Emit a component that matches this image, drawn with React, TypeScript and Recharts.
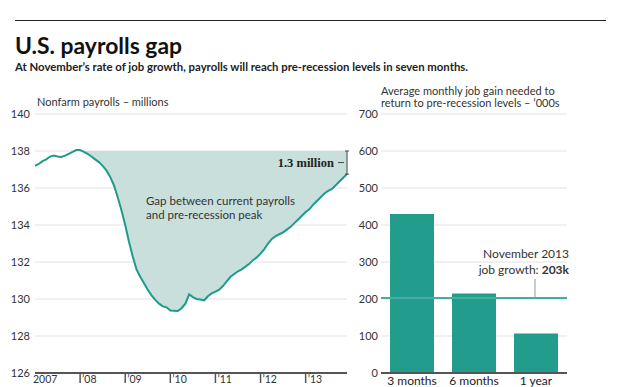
import {
  ComposedChart,
  Area,
  Line,
  XAxis,
  YAxis,
  CartesianGrid,
  ReferenceLine,
  BarChart,
  Bar,
} from "recharts";

// Nonfarm payrolls, millions, monthly from Jan 2007
const PAYROLLS = [
  137.2, 137.3, 137.45, 137.55, 137.7, 137.75, 137.7, 137.68, 137.75, 137.85, 137.95, 138.05,
  138.05, 137.95, 137.85, 137.7, 137.55, 137.4, 137.2, 136.95, 136.6, 136.15, 135.5, 134.8,
  134.0, 133.1, 132.3, 131.6, 131.2, 130.85, 130.5, 130.2, 129.95, 129.75, 129.6, 129.55,
  129.38, 129.37, 129.35, 129.5, 129.75, 130.25, 130.1, 130.0, 129.97, 129.93, 130.15, 130.3,
  130.4, 130.5, 130.7, 130.95, 131.2, 131.35, 131.5, 131.6, 131.75, 131.9, 132.1, 132.25,
  132.45, 132.7, 133.0, 133.25, 133.4, 133.5, 133.6, 133.75, 133.9, 134.1, 134.3, 134.5,
  134.7, 134.85, 135.1, 135.3, 135.5, 135.7, 135.85, 135.95, 136.15, 136.35, 136.55, 136.75,
];
const PEAK = 138;
const GAP_START = 12;
const YEAR_TICKS = [0, 12, 24, 36, 48, 60, 72];
const YEAR_LABELS = ["2007", "’08", "’09", "’10", "’11", "’12", "’13"];
const PAYROLL_TICKS = [126, 128, 130, 132, 134, 136, 138, 140];

// Average monthly job gain needed, '000s
const PERIODS = ["3 months", "6 months", "1 year"];
const MONTHLY_GAIN = [430, 215, 107];
const GAIN_TICKS = [0, 100, 200, 300, 400, 500, 600, 700];
const NOV_2013_GROWTH = 203;

const FONT = "Lato, 'Open Sans', sans-serif";
const TEAL = "#1f9a8b";
const LAST = PAYROLLS.length - 1;

const payrollData = PAYROLLS.map((v, i) => ({
  m: i,
  v,
  gap: i >= GAP_START ? [v, PEAK] : null,
}));

const gainData = PERIODS.map((p, i) => ({ period: p, gain: MONTHLY_GAIN[i] }));

function YearTick(props: any) {
  const { x, y, payload } = props;
  const label = YEAR_LABELS[YEAR_TICKS.indexOf(payload.value)];
  if (payload.value === 0) {
    return (
      <text x={x - 2} y={y + 10} fontSize={10.5} fill="#333" fontFamily={FONT}>
        {label}
      </text>
    );
  }
  return (
    <g>
      <line x1={x} x2={x} y1={y} y2={y + 10} stroke="#555" strokeWidth={1.5} />
      <text x={x + 2} y={y + 10} fontSize={10.5} fill="#333" fontFamily={FONT}>
        {label}
      </text>
    </g>
  );
}

function GapBracket(props: any) {
  const { viewBox } = props;
  if (!viewBox) return null;
  const x = viewBox.x;
  const top = viewBox.y;
  const bottom = viewBox.y + viewBox.height;
  const mid = (top + bottom) / 2;
  return (
    <g>
      <line x1={x - 2} x2={x + 2} y1={top} y2={top} stroke="#444" />
      <line x1={x - 2} x2={x + 2} y1={bottom} y2={bottom} stroke="#444" />
      <line x1={x - 9} x2={x - 3} y1={mid} y2={mid} stroke="#444" />
      <text
        x={x - 13}
        y={mid + 4}
        textAnchor="end"
        fontSize={12.5}
        fontWeight="bold"
        fill="#222"
        fontFamily="'Liberation Serif', serif"
      >
        1.3 million
      </text>
    </g>
  );
}

function GrowthLabel(props: any) {
  const { viewBox } = props;
  if (!viewBox) return null;
  const right = viewBox.x + viewBox.width;
  const y = viewBox.y;
  return (
    <g fontFamily={FONT} fontSize={12} fill="#333">
      <text x={right + 2} y={y - 40} textAnchor="end">
        November 2013
      </text>
      <text x={right + 2} y={y - 24} textAnchor="end">
        job growth: <tspan fontWeight="bold">{NOV_2013_GROWTH}k</tspan>
      </text>
      <line x1={right - 32} x2={right - 32} y1={y - 19} y2={y - 1} stroke="#999" />
    </g>
  );
}

export default function App() {
  return (
    <div style={{ position: "absolute", left: 0, top: 0, width: 620, height: 387, background: "#fff" }}>
      <div style={{ position: "absolute", left: 0, top: 0 }}>
        <ComposedChart
          width={360}
          height={387}
          data={payrollData}
          margin={{ top: 114, right: 13, left: 0, bottom: 0 }}
        >
          <CartesianGrid vertical={false} stroke="#e2e2e2" />
          <XAxis
            dataKey="m"
            type="number"
            domain={[0, LAST]}
            ticks={YEAR_TICKS}
            height={14}
            tickSize={0}
            tickMargin={0}
            tickLine={false}
            axisLine={{ stroke: "#555", strokeWidth: 2 }}
            tick={<YearTick />}
            interval={0}
          />
          <YAxis
            domain={[126, 140]}
            ticks={PAYROLL_TICKS}
            width={35}
            axisLine={false}
            tickLine={false}
            tickSize={0}
            tickMargin={5}
            interval={0}
            tick={{ fontSize: 11, fill: "#333", fontFamily: FONT }}
          />
          <Area
            dataKey="gap"
            stroke="none"
            fill="#c9dfdc"
            fillOpacity={1}
            isAnimationActive={false}
          />
          <Line
            dataKey="v"
            stroke={TEAL}
            strokeWidth={2}
            dot={false}
            isAnimationActive={false}
          />
          <ReferenceLine
            segment={[
              { x: LAST, y: PEAK },
              { x: LAST, y: PAYROLLS[LAST] },
            ]}
            stroke="#444"
            ifOverflow="visible"
            label={<GapBracket />}
          />
        </ComposedChart>
      </div>
      <div style={{ position: "absolute", left: 340, top: 0 }}>
        <BarChart
          width={280}
          height={387}
          data={gainData}
          margin={{ top: 114, right: 53, left: 0, bottom: 0 }}
        >
          <CartesianGrid vertical={false} stroke="#e2e2e2" />
          <XAxis
            dataKey="period"
            height={14}
            tickSize={0}
            tickMargin={3}
            tickLine={false}
            axisLine={{ stroke: "#555", strokeWidth: 2 }}
            tick={{ fontSize: 12, fill: "#222", fontFamily: FONT }}
            interval={0}
          />
          <YAxis
            domain={[0, 700]}
            ticks={GAIN_TICKS}
            width={41}
            axisLine={false}
            tickLine={false}
            tickSize={0}
            tickMargin={3}
            interval={0}
            tick={{ fontSize: 11, fill: "#333", fontFamily: FONT }}
          />
          <Bar dataKey="gain" fill="#229c8d" barSize={44} isAnimationActive={false} />
          <ReferenceLine
            y={NOV_2013_GROWTH}
            stroke="#45aea3"
            strokeWidth={2}
            ifOverflow="visible"
            label={<GrowthLabel />}
          />
        </BarChart>
      </div>
      <svg
        width={620}
        height={387}
        style={{ position: "absolute", left: 0, top: 0, pointerEvents: "none" }}
        fontFamily={FONT}
      >
        <line x1={15} x2={606} y1={20.5} y2={20.5} stroke="#222" strokeWidth={1} />
        <text x={15} y={53.5} fontSize={22} fontWeight="bold" fill="#111" textLength={167} lengthAdjust="spacingAndGlyphs">
          U.S. payrolls gap
        </text>
        <text x={15} y={71} fontSize={11.5} fontWeight="bold" fill="#222" textLength={453} lengthAdjust="spacingAndGlyphs">
          At November’s rate of job growth, payrolls will reach pre-recession levels in seven months.
        </text>
        <text x={37} y={106} fontSize={11} fill="#333">
          Nonfarm payrolls – millions
        </text>
        <text x={381} y={95} fontSize={11} fill="#333">
          Average monthly job gain needed to
        </text>
        <text x={381} y={107} fontSize={11} fill="#333">
          return to pre-recession levels – ’000s
        </text>
        <text x={146} y={205} fontSize={11.5} fill="#333">
          Gap between current payrolls
        </text>
        <text x={146} y={219} fontSize={11.5} fill="#333">
          and pre-recession peak
        </text>
      </svg>
    </div>
  );
}
